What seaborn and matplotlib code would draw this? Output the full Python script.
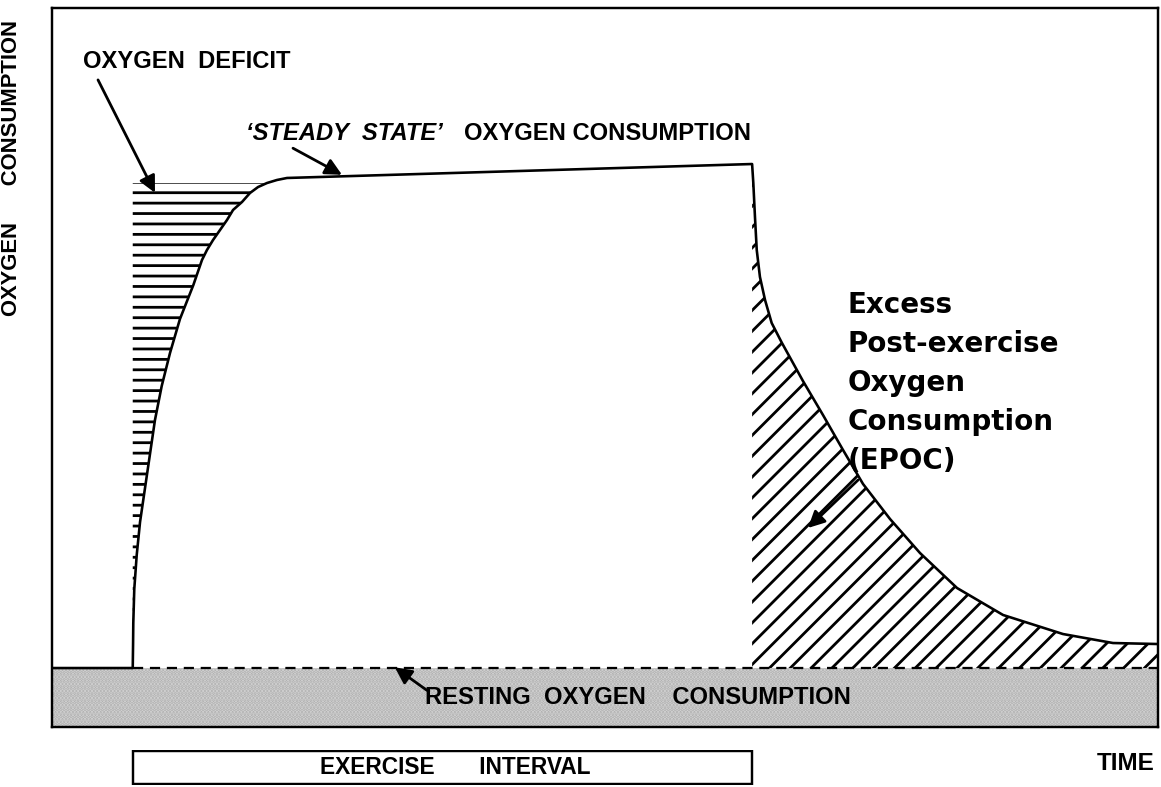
import matplotlib
matplotlib.use("Agg")
import matplotlib.pyplot as plt
import numpy as np
import pandas as pd
import seaborn as sns

# values (time and VO2 in arbitrary units, 0-100)
rest_vo2 = 8.2
deficit_top = 75.66
exercise_start = 7.30
exercise_end = 63.30

rest_time = [0.0, 7.30]
rise_time = [7.30, 7.33, 7.35, 7.44, 7.66, 7.96, 8.41, 8.86, 9.31, 9.92, 10.67, 11.57,
             12.78, 13.56, 14.01, 14.56, 15.19, 15.82, 16.37, 17.18, 17.90, 18.63,
             19.44, 20.34, 21.25]
rise_vo2 = [8.2, 11.5, 14.46, 19.19, 23.92, 28.51, 33.24, 37.97, 42.70, 47.43, 52.02,
            56.75, 61.47, 64.95, 66.34, 67.73, 69.12, 70.51, 71.91, 73.02, 74.27,
            75.10, 75.66, 76.08, 76.36]
steady_time = [21.25, 63.30]
steady_vo2 = [76.36, 78.30]
recovery_time = [63.30, 63.41, 63.56, 63.72, 64.01, 64.47, 65.07, 66.00, 67.90, 69.71,
                 71.52, 73.33, 75.77, 78.48, 81.83, 85.99, 91.41, 95.93, 100.0]
recovery_vo2 = [78.30, 75.66, 70.93, 66.34, 62.59, 59.39, 56.19, 53.41, 48.12, 43.39,
                38.53, 33.80, 28.93, 24.20, 19.33, 15.58, 12.93, 11.68, 11.54]

curve = pd.DataFrame({
    "time": rest_time + rise_time[1:] + steady_time[1:] + recovery_time[1:],
    "vo2": [rest_vo2, rest_vo2] + rise_vo2[1:] + steady_vo2[1:] + recovery_vo2[1:],
})

sns.set_theme(style="white")
plt.rcParams["font.family"] = ["Liberation Sans", "DejaVu Sans"]
plt.rcParams["text.color"] = "black"
plt.rcParams["axes.labelcolor"] = "black"
plt.rcParams["hatch.linewidth"] = 1.6

fig = plt.figure(figsize=(1161 / 125, 787 / 125), dpi=125)
ax = fig.add_axes([52 / 1161, 60 / 787, 1106 / 1161, 719 / 787])

# resting band
ax.fill_between([0, 100], 0, rest_vo2, facecolor="#d8d8d8", edgecolor="#b0b0b0",
                hatch="......", linewidth=0)
# oxygen deficit
rt = np.array(rise_time)
rv = np.array(rise_vo2)
ax.fill_between(rt, rv, deficit_top, where=rv <= deficit_top, interpolate=True,
                facecolor="none", edgecolor="black", hatch="--", linewidth=0)
# EPOC
ax.fill_between(recovery_time, recovery_vo2, rest_vo2, facecolor="none",
                edgecolor="black", hatch="//", linewidth=0)

sns.lineplot(data=curve, x="time", y="vo2", ax=ax, color="black", lw=1.5,
             estimator=None, sort=False)
ax.plot([exercise_start, 100], [rest_vo2, rest_vo2], color="black", lw=1.3,
        dashes=(4.5, 3))

ax.set_xlim(0, 100)
ax.set_ylim(0, 100)
ax.set_xticks([])
ax.set_yticks([])
ax.set_xlabel("")
ax.set_ylabel("OXYGEN      CONSUMPTION", fontsize=12.7, fontweight="bold")
ax.yaxis.set_label_coords(-0.027, 0.778)
for s in ax.spines.values():
    s.set_color("black")
    s.set_linewidth(1.4)

arrow = dict(arrowstyle="-|>", color="black", lw=1.6, mutation_scale=20,
             shrinkA=0, shrinkB=0)
ax.text(2.8, 92.5, "OXYGEN  DEFICIT", fontsize=13.7, fontweight="bold", va="center")
ax.annotate("", xy=(9.31, 74.3), xytext=(4.16, 90.0), arrowprops=arrow)

ax.text(17.54, 82.5, "‘STEADY  STATE’", fontsize=13.7, fontweight="bold",
        style="italic", va="center")
ax.text(37.25, 82.5, "OXYGEN CONSUMPTION", fontsize=13.7, fontweight="bold",
        va="center")
ax.annotate("", xy=(26.22, 76.8), xytext=(21.79, 80.5), arrowprops=arrow)

ax.text(71.97, 60.6, "Excess\nPost-exercise\nOxygen\nConsumption\n(EPOC)",
        fontsize=16, fontweight="bold", family="DejaVu Sans", va="top",
        linespacing=1.5)
ax.annotate("", xy=(68.35, 27.68), xytext=(72.88, 34.35), arrowprops=arrow)

ax.text(33.73, 4.17, "RESTING  OXYGEN    CONSUMPTION", fontsize=13.7,
        fontweight="bold", va="center")
ax.annotate("", xy=(31.0, 8.3), xytext=(33.9, 5.1), arrowprops=arrow)

# exercise interval bar under the time axis
ax_ex = fig.add_axes([52 / 1161, 2 / 787, 1106 / 1161, 35 / 787])
ax_ex.barh(0, exercise_end - exercise_start, left=exercise_start, height=1,
           color="white", edgecolor="black", linewidth=1.4)
ax_ex.set_xlim(0, 100)
ax_ex.set_ylim(-0.52, 0.52)
ax_ex.axis("off")
ax_ex.text(36.44, 0, "EXERCISE       INTERVAL", fontsize=13.1, fontweight="bold",
           ha="center", va="center")
ax_ex.text(99.7, 0.13, "TIME", fontsize=14, fontweight="bold", ha="right",
           va="center")

fig.savefig("out.png", dpi=125)
